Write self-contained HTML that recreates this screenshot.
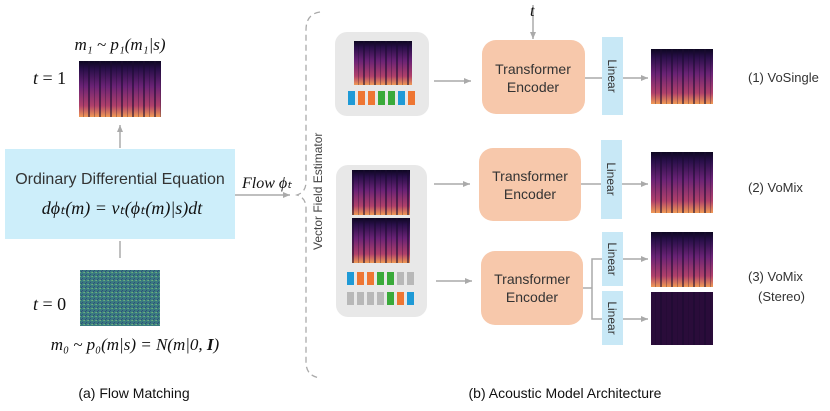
<!DOCTYPE html>
<html><head><meta charset="utf-8"><style>
body{margin:0;background:#fff}
svg text{font-family:"Liberation Sans",sans-serif}
.m{font-family:"Liberation Serif",serif;font-style:italic}
</style></head><body>
<svg width="830" height="406" viewBox="0 0 830 406" xmlns="http://www.w3.org/2000/svg">
<defs>
<linearGradient id="sg" x1="0" y1="0" x2="0" y2="1">
<stop offset="0" stop-color="#0c0620"/><stop offset="0.15" stop-color="#2a0f4a"/><stop offset="0.45" stop-color="#6a2275"/><stop offset="0.8" stop-color="#b0406a"/><stop offset="1" stop-color="#f09a55"/></linearGradient>
<pattern id="st" width="11" height="10" patternUnits="userSpaceOnUse">
<rect x="0" y="0" width="2" height="10" fill="#1a0a30" opacity="0.55"/><rect x="6" y="0" width="1" height="10" fill="#1a0a30" opacity="0.3"/></pattern>
<pattern id="nz" width="4" height="4" patternUnits="userSpaceOnUse">
<rect width="4" height="4" fill="#3a7a80"/><rect x="0" y="0" width="1" height="1" fill="#6fb07a"/><rect x="2" y="2" width="1" height="1" fill="#2d4f7a"/><rect x="3" y="0" width="1" height="1" fill="#5aa080"/><rect x="1" y="3" width="1" height="1" fill="#304a78"/></pattern>
<marker id="ar" markerWidth="8" markerHeight="8" refX="7" refY="4" orient="auto" markerUnits="userSpaceOnUse"><path d="M0,1 L7,4 L0,7 z" fill="#aaa"/></marker>
</defs>
<g stroke="#aaa" stroke-width="1.5" fill="none">
<line x1="120" y1="148" x2="120" y2="125" marker-end="url(#ar)"/>
<line x1="120" y1="258" x2="120" y2="241"/>
<line x1="235" y1="195" x2="290" y2="195" marker-end="url(#ar)"/>
<line x1="434" y1="81" x2="471" y2="81" marker-end="url(#ar)"/>
<line x1="533" y1="5" x2="533" y2="39" marker-end="url(#ar)"/>
<line x1="585" y1="78" x2="602" y2="78"/>
<line x1="623" y1="78" x2="648" y2="78" marker-end="url(#ar)"/>
<line x1="434" y1="184" x2="470" y2="184" marker-end="url(#ar)"/>
<line x1="581" y1="184" x2="601" y2="184"/>
<line x1="622" y1="184" x2="648" y2="184" marker-end="url(#ar)"/>
<line x1="436" y1="281" x2="472" y2="281" marker-end="url(#ar)"/>
<polyline points="583,288 592,288"/>
<polyline points="602,259 592,259 592,319 602,319"/>
<line x1="623" y1="259" x2="648" y2="259" marker-end="url(#ar)"/>
<line x1="623" y1="319" x2="648" y2="319" marker-end="url(#ar)"/>
</g>
<path d="M320,12 Q306,14 306,30 L306,182 Q306,192 297,195 Q306,198 306,208 L306,362 Q306,376 320,378" fill="none" stroke="#aaa" stroke-width="1.3" stroke-dasharray="6,4"/>
<text x="0" y="0" transform="translate(322,250) rotate(-90)" font-size="12" fill="#444">Vector Field Estimator</text>
<text class="m" x="120" y="50" font-size="17" text-anchor="middle" fill="#111">m₁ ~ p₁(m₁|s)</text>
<text class="m" x="33" y="84" font-size="18" fill="#111">t <tspan font-style="normal">= 1</tspan></text>
<rect x="79" y="61" width="82" height="56" fill="url(#sg)"/><rect x="79" y="61" width="82" height="56" fill="url(#st)"/>
<rect x="5" y="149" width="230" height="90" fill="#cdeefa"/>
<text x="120" y="184" font-size="16" text-anchor="middle" fill="#333">Ordinary Differential Equation</text>
<text class="m" x="122" y="214" font-size="18" text-anchor="middle" fill="#111">dϕₜ(m) = vₜ(ϕₜ(m)|s)dt</text>
<text class="m" x="242" y="188" font-size="16" fill="#111">Flow ϕₜ</text>
<rect x="80" y="270" width="80" height="56" fill="url(#nz)"/>
<text class="m" x="33" y="310" font-size="18" fill="#111">t <tspan font-style="normal">= 0</tspan></text>
<text class="m" x="135" y="350" font-size="17" text-anchor="middle" fill="#111">m₀ ~ p₀(m|s) = N(m|0, <tspan font-weight="bold">I</tspan>)</text>
<text x="134" y="398" font-size="14" text-anchor="middle" fill="#111">(a) Flow Matching</text>
<rect x="335" y="32" width="94" height="84" rx="12" fill="#e8e8e8"/>
<rect x="354" y="41" width="58" height="44" fill="url(#sg)"/><rect x="354" y="41" width="58" height="44" fill="url(#st)"/>
<g>
<rect x="348" y="91" width="7" height="14" fill="#1f9ad6"/><rect x="358" y="91" width="7" height="14" fill="#ee7633"/><rect x="368" y="91" width="7" height="14" fill="#ee7633"/><rect x="378" y="91" width="7" height="14" fill="#3aaa3a"/><rect x="388" y="91" width="7" height="14" fill="#3aaa3a"/><rect x="398" y="91" width="7" height="14" fill="#1f9ad6"/><rect x="408" y="91" width="7" height="14" fill="#ee7633"/>
</g>
<rect x="336" y="165" width="91" height="152" rx="12" fill="#e8e8e8"/>
<rect x="352" y="170" width="58" height="45" fill="url(#sg)"/><rect x="352" y="170" width="58" height="45" fill="url(#st)"/>
<rect x="352" y="218" width="58" height="45" fill="url(#sg)"/><rect x="352" y="218" width="58" height="45" fill="url(#st)"/>
<g>
<rect x="347" y="272" width="7" height="13" fill="#1f9ad6"/><rect x="357" y="272" width="7" height="13" fill="#ee7633"/><rect x="367" y="272" width="7" height="13" fill="#ee7633"/><rect x="377" y="272" width="7" height="13" fill="#3aaa3a"/><rect x="387" y="272" width="7" height="13" fill="#3aaa3a"/><rect x="397" y="272" width="7" height="13" fill="#b8b8b8"/><rect x="407" y="272" width="7" height="13" fill="#b8b8b8"/>
<rect x="347" y="292" width="7" height="13" fill="#b8b8b8"/><rect x="357" y="292" width="7" height="13" fill="#b8b8b8"/><rect x="367" y="292" width="7" height="13" fill="#b8b8b8"/><rect x="377" y="292" width="7" height="13" fill="#b8b8b8"/><rect x="387" y="292" width="7" height="13" fill="#3aaa3a"/><rect x="397" y="292" width="7" height="13" fill="#ee7633"/><rect x="407" y="292" width="7" height="13" fill="#1f9ad6"/>
</g>
<text class="m" x="530" y="16" font-size="16" fill="#111">t</text>
<g fill="#f7c8ab">
<rect x="482" y="40" width="103" height="74" rx="14"/>
<rect x="479" y="148" width="102" height="73" rx="14"/>
<rect x="481" y="251" width="102" height="74" rx="14"/>
</g>
<g font-size="14" fill="#333" text-anchor="middle">
<text x="533" y="74">Transformer</text><text x="533" y="92">Encoder</text>
<text x="530" y="181">Transformer</text><text x="530" y="199">Encoder</text>
<text x="532" y="284">Transformer</text><text x="532" y="302">Encoder</text>
</g>
<g fill="#c8e8f6">
<rect x="602" y="37" width="21" height="78"/>
<rect x="601" y="140" width="21" height="79"/>
<rect x="602" y="232" width="21" height="54"/>
<rect x="602" y="291" width="21" height="54"/>
</g>
<g font-size="12" fill="#333" text-anchor="middle">
<text transform="translate(608,76) rotate(90)">Linear</text>
<text transform="translate(607,179) rotate(90)">Linear</text>
<text transform="translate(608,259) rotate(90)">Linear</text>
<text transform="translate(608,318) rotate(90)">Linear</text>
</g>
<g>
<rect x="651" y="49" width="62" height="55" fill="url(#sg)"/><rect x="651" y="49" width="62" height="55" fill="url(#st)"/>
<rect x="651" y="152" width="62" height="61" fill="url(#sg)"/><rect x="651" y="152" width="62" height="61" fill="url(#st)"/>
<rect x="651" y="232" width="62" height="55" fill="url(#sg)"/><rect x="651" y="232" width="62" height="55" fill="url(#st)"/>
<rect x="651" y="292" width="62" height="53" fill="#2a0c3a"/><rect x="651" y="292" width="62" height="53" fill="url(#st)"/>
</g>
<g font-size="13" fill="#333">
<text x="748" y="82">(1) VoSingle</text>
<text x="748" y="192">(2) VoMix</text>
<text x="748" y="281">(3) VoMix</text>
<text x="758" y="301">(Stereo)</text>
</g>
<text x="565" y="398" font-size="14" text-anchor="middle" fill="#111">(b) Acoustic Model Architecture</text>
</svg>
</body></html>
